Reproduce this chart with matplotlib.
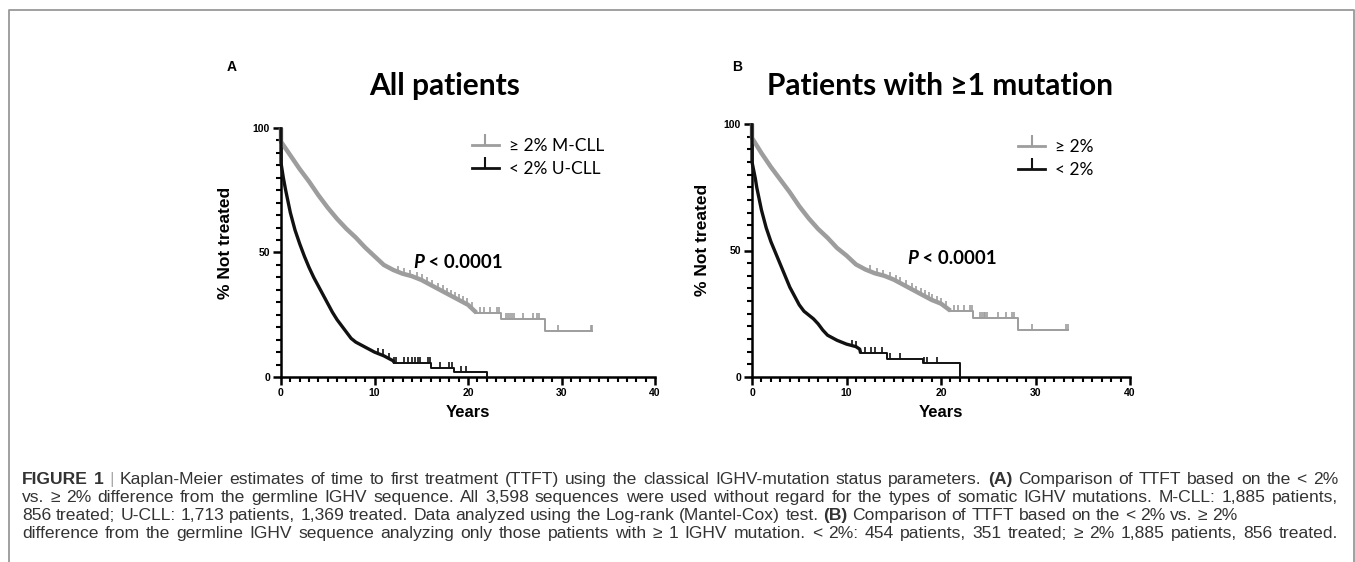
import numpy as np
import matplotlib
matplotlib.use("Agg")
import matplotlib.pyplot as plt
from matplotlib.lines import Line2D
from matplotlib.markers import TICKUP

# ---------------------------------------------------------------
# data (years, % not treated)
# ---------------------------------------------------------------
a_m_t = [0, 0, 1, 2, 3, 4, 5, 6, 7, 8, 9, 10, 11, 12, 13, 14, 15, 16, 17, 18, 19, 20,
         20.9, 23.5, 23.5, 28.2, 28.2, 33.3]
a_m_s = [100, 94.5, 89, 83.5, 78.5, 73, 68, 63.5, 59.5, 56, 52, 48.5, 45, 43, 41.5, 40.5,
         39, 37, 35, 33, 31, 29, 25.8, 25.8, 23.2, 23.2, 18.6, 18.6]
a_u_t = [0, 0, 0.25, 0.5, 1, 1.5, 2, 2.5, 3, 3.5, 4, 4.5, 5, 5.5, 6, 6.5, 7, 7.5, 8, 8.5,
         9, 9.5, 10, 11, 12, 12.1, 16, 16, 18.5, 18.5, 22, 22]
a_u_s = [100, 86, 80, 75, 66, 59, 53.5, 48.5, 44, 40, 36.5, 33, 29.5, 26, 23, 20.5, 18,
         15.5, 14, 13, 12, 11, 10, 8.5, 6.5, 5.8, 5.8, 3.8, 3.8, 2, 2, 0]

b_m_t = [0, 0, 1, 2, 3, 4, 5, 6, 7, 8, 9, 10, 11, 12, 13, 14, 15, 16, 17, 18, 19, 20,
         21, 23.4, 23.4, 28.2, 28.2, 33.4]
b_m_s = [100, 94.5, 88.5, 83, 78, 73, 67.5, 62.7, 58.5, 55, 51, 48, 44.5, 42.5, 41, 40,
         38.5, 36.5, 34.5, 32.5, 30.5, 29, 26.2, 26.2, 23.2, 23.2, 18.6, 18.6]
b_u_t = [0, 0, 0.35, 0.5, 1, 1.5, 2, 2.5, 3, 3.5, 4, 4.5, 5, 5.5, 6, 6.5, 7, 7.5, 8, 8.5,
         9, 10, 11, 11.4, 11.5, 14.3, 14.3, 18.1, 18.1, 22, 22]
b_u_s = [100, 85, 78.5, 75, 66, 59, 53.5, 49, 44.5, 40, 35.5, 32, 28.5, 26, 24.5, 23, 21,
         18.5, 16.5, 15.5, 14.5, 13, 12, 11, 9.3, 9.3, 7.3, 7.3, 5.5, 5.5, 0]

# year after which each curve turns into sparse steps
a_m_tail, a_u_tail, b_m_tail, b_u_tail = 20.9, 12.1, 21, 11.5

# censored observations (years)
a_m_cens = [12.5, 13.2, 13.8, 14.5, 15.1, 15.6, 16.2, 16.8, 17.3, 17.8, 18.2, 18.6, 19.0,
            19.5, 19.9, 20.4, 21.3, 21.7, 22.3, 23.1, 23.3, 24.1, 24.3, 24.5, 24.7, 24.9,
            25.9, 26.9, 27.4, 27.6, 29.6, 33.2, 33.3]
a_u_cens = [10.4, 10.9, 11.6, 12.1, 12.3, 13.2, 13.6, 14.0, 14.3, 14.6, 14.9, 15.7, 15.9,
            17.0, 18.0, 18.3, 19.2, 19.8]
b_m_cens = [12.5, 13.2, 13.9, 14.6, 15.2, 15.7, 16.3, 16.9, 17.4, 17.9, 18.3, 18.7, 19.1,
            19.6, 20.0, 20.5, 21.4, 21.8, 22.4, 23.1, 23.3, 24.1, 24.3, 24.5, 24.7, 24.9,
            26.0, 26.9, 27.5, 27.7, 29.6, 33.2, 33.4]
b_u_cens = [10.6, 11.0, 12.0, 12.6, 13.0, 13.8, 14.6, 15.7, 18.2, 18.5, 19.6]

titles = ["All patients", "Patients with \u22651 mutation"]
letters = ["A", "B"]
legend_a = ["\u2265 2% M-CLL", "< 2% U-CLL"]
legend_b = ["\u2265 2%", "< 2%"]
pval = "< 0.0001"

caption = [
    ("**FIGURE 1** | Kaplan-Meier estimates of time to first treatment (TTFT) using the "
     "classical IGHV-mutation status parameters. **(A)** Comparison of TTFT based on the < 2%", True),
    ("vs. \u2265 2% difference from the germline IGHV sequence. All 3,598 sequences were used "
     "without regard for the types of somatic IGHV mutations. M-CLL: 1,885 patients,", True),
    ("856 treated; U-CLL: 1,713 patients, 1,369 treated. Data analyzed using the Log-rank "
     "(Mantel-Cox) test. **(B)** Comparison of TTFT based on the < 2% vs. \u2265 2%", False),
    ("difference from the germline IGHV sequence analyzing only those patients with \u2265 1 "
     "IGHV mutation. < 2%: 454 patients, 351 treated; \u2265 2% 1,885 patients, 856 treated.", True),
]

GRAY = "#9d9d9d"
BLACK = "#111111"
W, H = 1355, 562
AX_FONT = "Liberation Sans"
TXT_FONT = "Lato"


def fx(px):
    return px / W


def fy(py):
    return 1 - py / H


def curve_value(t, s, x):
    # value of the curve at a censoring time
    t = np.asarray(t)
    s = np.asarray(s)
    idx = np.searchsorted(t, x, side="right") - 1
    if idx + 1 >= len(t) or s[idx] == s[idx + 1]:
        return s[idx]
    return np.interp(x, t[idx:idx + 2], s[idx:idx + 2])


def km_panel(ax, curves, legend_labels, leg_pos, p_xy, ylab_x):
    for t, s, cens, tail, col, lw in curves:
        t = np.asarray(t)
        s = np.asarray(s)
        k = (t <= tail).sum()
        ax.plot(t[:k], s[:k], color=col, lw=lw, clip_on=False, zorder=3,
                solid_capstyle="butt")
        ax.plot(t[k - 1:], s[k - 1:], color=col, lw=1.4, clip_on=False, zorder=3)
        cy = [curve_value(t, s, c) for c in cens]
        ax.plot(cens, cy, ls="none", marker=TICKUP, ms=4.5, mew=1.2, color=col,
                clip_on=False, zorder=3)

    ax.set_xlim(0, 40)
    ax.set_ylim(0, 100)
    ax.set_xticks([0, 10, 20, 30, 40])
    ax.set_xticks(np.arange(0, 41, 1), minor=True)
    ax.set_yticks([0, 50, 100])
    ax.set_yticks(np.arange(0, 101, 5), minor=True)
    for side in ["top", "right"]:
        ax.spines[side].set_visible(False)
    for side in ["left", "bottom"]:
        ax.spines[side].set_linewidth(1.8)
    ax.tick_params(which="major", length=6, width=1.8, pad=2)
    ax.tick_params(which="minor", length=3.5, width=1.5)
    for lab in ax.get_xticklabels() + ax.get_yticklabels():
        lab.set_fontfamily(AX_FONT)
        lab.set_fontweight("bold")
        lab.set_fontsize(7.5)

    ax.set_xlabel("Years", fontfamily=AX_FONT, fontweight="bold", fontsize=12, labelpad=5)
    ax.set_ylabel("% Not treated", fontfamily=AX_FONT, fontweight="bold", fontsize=12.5)
    ax.yaxis.set_label_coords(ylab_x, 0.54)

    handles = [Line2D([], [], color=GRAY, lw=2, marker=TICKUP, ms=8, mew=1.5),
               Line2D([], [], color=BLACK, lw=2, marker=TICKUP, ms=8, mew=1.5)]
    ax.legend(handles, legend_labels, loc="upper left", bbox_to_anchor=leg_pos,
              frameon=False, numpoints=1, handlelength=1.55, handletextpad=0.6,
              labelspacing=0.4, borderpad=0, borderaxespad=0,
              prop={"family": TXT_FONT, "size": 12.5})

    pt = ax.text(p_xy[0], p_xy[1], "P", fontfamily=TXT_FONT, fontweight="bold",
                 fontstyle="italic", fontsize=13.5, va="bottom", ha="left")
    ax.annotate(" " + pval, xy=(1, 0), xycoords=pt, va="bottom", ha="left",
                fontfamily=TXT_FONT, fontweight="bold", fontsize=13.5)


fig = plt.figure(figsize=(W / 100, H / 100), dpi=100)

# outer frame (open at bottom)
fig.add_artist(Line2D([fx(9), fx(9), fx(1353.5), fx(1353.5)],
                      [0, fy(10), fy(10), 0], color="#999999", lw=1.3,
                      transform=fig.transFigure))

ax_a = fig.add_axes([fx(281), fy(377), fx(655 - 281), (377 - 128) / H])
ax_b = fig.add_axes([fx(752), fy(377), fx(1130 - 752), (377 - 124) / H])

km_panel(ax_a,
         [(a_m_t, a_m_s, a_m_cens, a_m_tail, GRAY, 3.2),
          (a_u_t, a_u_s, a_u_cens, a_u_tail, BLACK, 2.4)],
         legend_a, (0.51, 0.958), (14.1, 42.5), -0.128)
km_panel(ax_b,
         [(b_m_t, b_m_s, b_m_cens, b_m_tail, GRAY, 3.2),
          (b_u_t, b_u_s, b_u_cens, b_u_tail, BLACK, 2.4)],
         legend_b, (0.704, 0.94), (16.4, 43.5), -0.112)

fig.text(fx(445), fy(86), titles[0], ha="center", va="center", fontfamily=TXT_FONT,
         fontweight="bold", fontsize=21.5)
fig.text(fx(940), fy(86), titles[1], ha="center", va="center", fontfamily=TXT_FONT,
         fontweight="bold", fontsize=21.5)
fig.text(fx(232), fy(67), letters[0], ha="center", va="center", fontfamily=AX_FONT,
         fontweight="bold", fontsize=10)
fig.text(fx(737), fy(67), letters[1], ha="center", va="center", fontfamily=AX_FONT,
         fontweight="bold", fontsize=10)

# caption, justified word by word, all words on one baseline per line
renderer = fig.canvas.get_renderer()
cap_x0, cap_x1 = 22, 1338
cap_base = [484, 502, 520, 538]
cap_size = 12.6
probe = fig.text(0, 0, "a a", fontfamily=AX_FONT, fontsize=cap_size)
probe1 = fig.text(0, 0, "aa", fontfamily=AX_FONT, fontsize=cap_size)
space_w = (probe.get_window_extent(renderer).width
           - probe1.get_window_extent(renderer).width)
probe.remove()
probe1.remove()

for (line, justify), yy in zip(caption, cap_base):
    words = []
    bold = False
    for part in line.split("**"):
        for w in part.split():
            words.append((w, bold))
        bold = not bold
    texts = []
    for w, b in words:
        col = "#aaaaaa" if w == "|" else "#333333"
        t = fig.text(0, fy(yy), w, va="baseline", ha="left", fontfamily=AX_FONT,
                     fontsize=cap_size, color=col,
                     fontweight="bold" if b else "normal")
        texts.append(t)
    widths = [t.get_window_extent(renderer).width for t in texts]
    if justify and len(texts) > 1:
        gap = (cap_x1 - cap_x0 - sum(widths)) / (len(texts) - 1)
    else:
        gap = space_w
    x = cap_x0
    for t, w in zip(texts, widths):
        t.set_x(fx(x))
        x += w + gap

fig.savefig("out.png", dpi=100)
